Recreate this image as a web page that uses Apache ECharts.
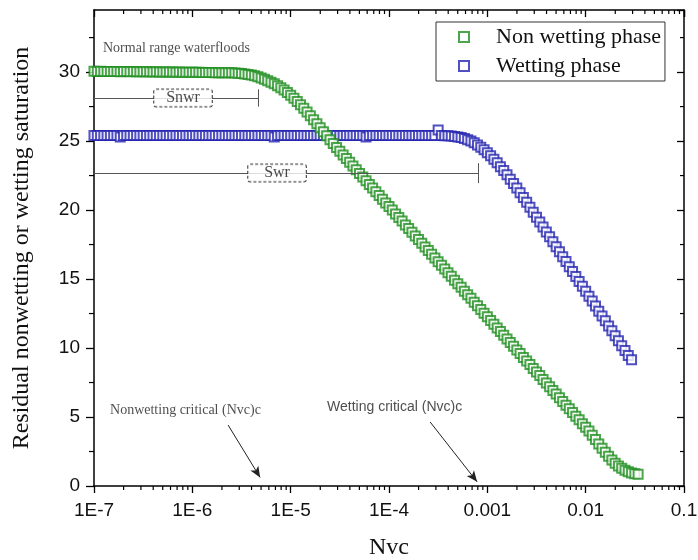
<!DOCTYPE html>
<html>
<head>
<meta charset="utf-8">
<script src="https://cdn.jsdelivr.net/npm/echarts@6/dist/echarts.min.js"></script>
<style>
  html, body { margin: 0; padding: 0; background: #fff; }
  #chart { width: 698px; height: 560px; }
</style>
</head>
<body>
<div id="chart"></div>
<script>
// Capillary number (Nvc) sampling points shared by both phases
const nvc = [
  1.000e-7, 1.080e-7, 1.166e-7, 1.259e-7, 1.359e-7, 1.468e-7, 1.585e-7, 1.711e-7, 1.848e-7, 1.995e-7,
  2.154e-7, 2.326e-7, 2.512e-7, 2.712e-7, 2.929e-7, 3.162e-7, 3.415e-7, 3.687e-7, 3.981e-7, 4.299e-7,
  4.642e-7, 5.012e-7, 5.412e-7, 5.843e-7, 6.310e-7, 6.813e-7, 7.356e-7, 7.943e-7, 8.577e-7, 9.261e-7,
  1.000e-6, 1.080e-6, 1.166e-6, 1.259e-6, 1.359e-6, 1.468e-6, 1.585e-6, 1.711e-6, 1.848e-6, 1.995e-6,
  2.154e-6, 2.326e-6, 2.512e-6, 2.712e-6, 2.929e-6, 3.162e-6, 3.415e-6, 3.687e-6, 3.981e-6, 4.299e-6,
  4.642e-6, 5.012e-6, 5.412e-6, 5.843e-6, 6.310e-6, 6.813e-6, 7.356e-6, 7.943e-6, 8.577e-6, 9.261e-6,
  1.000e-5, 1.080e-5, 1.166e-5, 1.259e-5, 1.359e-5, 1.468e-5, 1.585e-5, 1.711e-5, 1.848e-5, 1.995e-5,
  2.154e-5, 2.326e-5, 2.512e-5, 2.712e-5, 2.929e-5, 3.162e-5, 3.415e-5, 3.687e-5, 3.981e-5, 4.299e-5,
  4.642e-5, 5.012e-5, 5.412e-5, 5.843e-5, 6.310e-5, 6.813e-5, 7.356e-5, 7.943e-5, 8.577e-5, 9.261e-5,
  1.000e-4, 1.080e-4, 1.166e-4, 1.259e-4, 1.359e-4, 1.468e-4, 1.585e-4, 1.711e-4, 1.848e-4, 1.995e-4,
  2.154e-4, 2.326e-4, 2.512e-4, 2.712e-4, 2.929e-4, 3.162e-4, 3.415e-4, 3.687e-4, 3.981e-4, 4.299e-4,
  4.642e-4, 5.012e-4, 5.412e-4, 5.843e-4, 6.310e-4, 6.813e-4, 7.356e-4, 7.943e-4, 8.577e-4, 9.261e-4,
  1.000e-3, 1.080e-3, 1.166e-3, 1.259e-3, 1.359e-3, 1.468e-3, 1.585e-3, 1.711e-3, 1.848e-3, 1.995e-3,
  2.154e-3, 2.326e-3, 2.512e-3, 2.712e-3, 2.929e-3, 3.162e-3, 3.415e-3, 3.687e-3, 3.981e-3, 4.299e-3,
  4.642e-3, 5.012e-3, 5.412e-3, 5.843e-3, 6.310e-3, 6.813e-3, 7.356e-3, 7.943e-3, 8.577e-3, 9.261e-3,
  1.000e-2, 1.080e-2, 1.166e-2, 1.259e-2, 1.359e-2, 1.468e-2, 1.585e-2, 1.711e-2, 1.848e-2, 1.995e-2,
  2.154e-2, 2.326e-2, 2.512e-2, 2.712e-2, 2.929e-2, 3.162e-2, 3.415e-2
];

// Residual non-wetting phase saturation
const nonWetting = [
  30.06, 30.05, 30.06, 30.05, 30.04, 30.05, 30.04, 30.05, 30.03, 30.04,
  30.04, 30.03, 30.04, 30.02, 30.03, 30.02, 30.03, 30.02, 30.01, 30.02,
  30.01, 30.01, 30.00, 30.01, 30.00, 29.99, 30.00, 29.99, 29.99, 29.99,
  29.98, 29.98, 29.98, 29.97, 29.97, 29.97, 29.97, 29.96, 29.96, 29.96,
  29.96, 29.95, 29.95, 29.93, 29.92, 29.90, 29.87, 29.83, 29.78, 29.73,
  29.66, 29.57, 29.48, 29.37, 29.27, 29.15, 29.01, 28.86, 28.71, 28.52,
  28.32, 28.11, 27.87, 27.63, 27.37, 27.10, 26.83, 26.55, 26.26, 25.97,
  25.68, 25.39, 25.10, 24.82, 24.54, 24.26, 23.99, 23.74, 23.46, 23.20,
  22.93, 22.65, 22.39, 22.12, 21.86, 21.60, 21.33, 21.05, 20.79, 20.52,
  20.26, 20.00, 19.72, 19.46, 19.20, 18.92, 18.66, 18.40, 18.12, 17.86,
  17.60, 17.32, 17.06, 16.80, 16.52, 16.26, 16.00, 15.72, 15.46, 15.20,
  14.92, 14.66, 14.40, 14.12, 13.86, 13.60, 13.32, 13.06, 12.80, 12.52,
  12.26, 12.00, 11.72, 11.46, 11.20, 10.92, 10.66, 10.40, 10.12, 9.86,
  9.60, 9.32, 9.06, 8.80, 8.52, 8.26, 8.00, 7.72, 7.46, 7.20,
  6.92, 6.66, 6.40, 6.12, 5.86, 5.60, 5.32, 5.06, 4.80, 4.52,
  4.26, 3.98, 3.68, 3.37, 3.05, 2.74, 2.44, 2.16, 1.89, 1.65,
  1.45, 1.28, 1.14, 1.03, 0.95, 0.89, 0.85
];

// Residual wetting phase saturation
const wetting = [
  25.41, 25.40, 25.41, 25.40, 25.40, 25.41, 25.40, 25.40, 25.30, 25.41,
  25.40, 25.40, 25.41, 25.40, 25.40, 25.41, 25.40, 25.40, 25.41, 25.40,
  25.40, 25.41, 25.40, 25.40, 25.41, 25.40, 25.40, 25.41, 25.40, 25.40,
  25.41, 25.40, 25.40, 25.41, 25.40, 25.40, 25.41, 25.40, 25.40, 25.41,
  25.40, 25.40, 25.41, 25.40, 25.40, 25.41, 25.40, 25.40, 25.41, 25.40,
  25.40, 25.41, 25.40, 25.40, 25.41, 25.30, 25.40, 25.41, 25.40, 25.40,
  25.41, 25.40, 25.40, 25.41, 25.40, 25.40, 25.41, 25.40, 25.40, 25.41,
  25.40, 25.40, 25.41, 25.40, 25.40, 25.41, 25.40, 25.40, 25.41, 25.40,
  25.40, 25.41, 25.40, 25.30, 25.41, 25.40, 25.40, 25.41, 25.40, 25.40,
  25.41, 25.40, 25.40, 25.41, 25.40, 25.40, 25.41, 25.40, 25.40, 25.41,
  25.40, 25.40, 25.41, 25.40, 25.40, 25.80, 25.40, 25.39, 25.38, 25.36,
  25.34, 25.30, 25.25, 25.18, 25.10, 25.00, 24.87, 24.72, 24.56, 24.37,
  24.16, 23.93, 23.68, 23.42, 23.14, 22.86, 22.56, 22.24, 21.92, 21.59,
  21.25, 20.91, 20.56, 20.20, 19.85, 19.48, 19.13, 18.78, 18.41, 18.06,
  17.70, 17.34, 16.97, 16.62, 16.27, 15.90, 15.55, 15.19, 14.82, 14.47,
  14.12, 13.75, 13.40, 13.04, 12.67, 12.32, 11.97, 11.60, 11.25, 10.89,
  10.52, 10.17, 9.82, 9.45, 9.15
];

const seriesNames = ['Non wetting phase', 'Wetting phase'];
const xTickLabels = ['1E-7', '1E-6', '1E-5', '1E-4', '0.001', '0.01', '0.1'];
const yTickLabels = ['0', '5', '10', '15', '20', '25', '30'];

const X_MIN = 1e-7, X_MAX = 0.1, Y_MIN = 0, Y_MAX = 34.5;

// Minor tick positions: 2..9 within each decade, and half-steps on the saturation axis
const xMinor = [];
for (let e = -7; e < -1; e++) {
  for (let m = 2; m <= 9; m++) xMinor.push(m * Math.pow(10, e));
}
const yMinor = [2.5, 7.5, 12.5, 17.5, 22.5, 27.5, 32.5];

const SERIF = '"Liberation Serif", "Times New Roman", serif';
const SANS = '"Liberation Sans", Arial, sans-serif';
const GREEN = '#1f8f1f';
const BLUE = '#2424b0';

const chart = echarts.init(document.getElementById('chart'), null, { renderer: 'canvas' });

function pairs(ys) {
  return ys.map((y, i) => [nvc[i], y]);
}

const axisLineStyle = { color: '#000', width: 1.5 };

// Short minor ticks on bottom (outward) and top (inward) edges
function minorTickItem(params, api) {
  const v = api.value(0);
  const a = api.coord([v, Y_MIN]);
  const b = api.coord([v, Y_MAX]);
  const style = { stroke: '#000', lineWidth: 1.2 };
  return {
    type: 'group',
    children: [
      { type: 'line', shape: { x1: a[0], y1: a[1], x2: a[0], y2: a[1] + 4 }, style },
      { type: 'line', shape: { x1: b[0], y1: b[1], x2: b[0], y2: b[1] + 4 }, style }
    ]
  };
}

// Short minor ticks on left (outward) and right (inward) edges
function minorTickItemY(params, api) {
  const v = api.value(1);
  const a = api.coord([X_MIN, v]);
  const b = api.coord([X_MAX, v]);
  const style = { stroke: '#000', lineWidth: 1.2 };
  return {
    type: 'group',
    children: [
      { type: 'line', shape: { x1: a[0], y1: a[1], x2: a[0] - 5, y2: a[1] }, style },
      { type: 'line', shape: { x1: b[0], y1: b[1], x2: b[0] - 4, y2: b[1] }, style }
    ]
  };
}

function note(value, text, label) {
  return { value, label: Object.assign({ show: true, formatter: text }, label) };
}

const boxLabel = {
  position: 'inside', fontFamily: SERIF, fontSize: 16, color: '#1a1a1a', backgroundColor: '#fff',
  borderColor: '#222', borderWidth: 1, borderType: [3, 2], borderRadius: 2, lineHeight: 17
};

const option = {
  backgroundColor: '#fff',
  animation: false,
  grid: { left: 94, right: 14, top: 10, bottom: 74, containLabel: false, outerBoundsMode: 'none' },
  legend: {
    data: seriesNames,
    orient: 'vertical',
    left: 436,
    top: 22,
    padding: [3, 4, 3, 22],
    itemGap: 5,
    itemWidth: 10,
    itemHeight: 10,
    borderColor: '#333',
    borderWidth: 1,
    backgroundColor: '#fff',
    textStyle: { fontFamily: SERIF, fontSize: 22, color: '#111', lineHeight: 24, padding: [0, 0, 0, 22] }
  },
  xAxis: [
    {
      type: 'log', logBase: 10, min: X_MIN, max: X_MAX, position: 'bottom',
      name: 'Nvc', nameLocation: 'middle', nameGap: 50,
      nameTextStyle: { fontFamily: SERIF, fontSize: 24, color: '#111' },
      axisLine: { onZero: false, lineStyle: axisLineStyle },
      axisTick: { inside: false, length: 7, lineStyle: { width: 1.3, color: '#000' } },
      axisLabel: {
        margin: 15, fontFamily: SANS, fontSize: 19, color: '#111',
        formatter: v => xTickLabels[Math.round(Math.log10(v)) + 7]
      },
      splitLine: { show: false }
    },
    {
      type: 'log', logBase: 10, min: X_MIN, max: X_MAX, position: 'top',
      axisLine: { onZero: false, lineStyle: axisLineStyle },
      axisTick: { inside: true, length: 7, lineStyle: { width: 1.3, color: '#000' } },
      axisLabel: { show: false },
      splitLine: { show: false }
    }
  ],
  yAxis: [
    {
      type: 'value', min: Y_MIN, max: Y_MAX, interval: 5, position: 'left',
      name: 'Residual nonwetting or wetting saturation', nameLocation: 'middle', nameGap: 60,
      nameTextStyle: { fontFamily: SERIF, fontSize: 24, color: '#111' },
      axisLine: { onZero: false, lineStyle: axisLineStyle },
      axisTick: { inside: false, length: 8, lineStyle: { width: 1.3, color: '#000' } },
      axisLabel: {
        margin: 14, fontFamily: SANS, fontSize: 19, color: '#111', showMaxLabel: false,
        formatter: v => { const i = Math.round(v / 5); return Math.abs(v - i * 5) < 1e-6 ? yTickLabels[i] : ''; }
      },
      splitLine: { show: false }
    },
    {
      type: 'value', min: Y_MIN, max: Y_MAX, interval: 5, position: 'right',
      axisLine: { onZero: false, lineStyle: axisLineStyle },
      axisTick: { inside: true, length: 7, lineStyle: { width: 1.3, color: '#000' } },
      axisLabel: { show: false },
      splitLine: { show: false }
    }
  ],
  series: [
    {
      name: seriesNames[1],
      type: 'scatter',
      symbol: 'emptyRect',
      symbolSize: 9,
      itemStyle: { color: BLUE, borderColor: BLUE, borderWidth: 1.4 },
      data: pairs(wetting),
      z: 3
    },
    {
      name: seriesNames[0],
      type: 'scatter',
      symbol: 'emptyRect',
      symbolSize: 9,
      itemStyle: { color: GREEN, borderColor: GREEN, borderWidth: 1.4 },
      data: pairs(nonWetting),
      z: 4
    },
    {
      name: 'notes',
      type: 'scatter',
      symbolSize: 0,
      silent: true,
      z: 6,
      data: [
        note([1.235e-7, 31.75], 'Normal range waterfloods',
          { position: 'right', distance: 0, fontFamily: SERIF, fontSize: 14, color: '#222' }),
        note([1.456e-7, 5.5], 'Nonwetting critical (Nvc)c',
          { position: 'right', distance: 0, fontFamily: SERIF, fontSize: 14, color: '#222' }),
        note([2.345e-5, 5.72], 'Wetting critical (Nvc)c',
          { position: 'right', distance: 0, fontFamily: SANS, fontSize: 14, color: '#222' }),
        note([8.04e-7, 28.12], 'Snwr', Object.assign({ padding: [0, 12] }, boxLabel)),
        note([7.27e-6, 22.68], 'Swr', Object.assign({ padding: [0, 16] }, boxLabel))
      ],
      markLine: {
        silent: true,
        symbol: ['none', 'none'],
        label: { show: false },
        lineStyle: { color: '#555', width: 1, type: 'solid' },
        data: [
          [{ coord: [X_MIN, 28.12] }, { coord: [4.7e-6, 28.12] }],
          [{ coord: [4.7e-6, 27.5] }, { coord: [4.7e-6, 28.75] }],
          [{ coord: [X_MIN, 22.68] }, { coord: [8.1e-4, 22.68] }],
          [{ coord: [8.1e-4, 21.95] }, { coord: [8.1e-4, 23.4] }],
          [{ coord: [2.31e-6, 4.42], symbol: 'none' },
           { coord: [4.89e-6, 0.62], symbol: 'arrow', symbolSize: [7, 11], lineStyle: { color: '#222' } }],
          [{ coord: [2.62e-4, 4.64], symbol: 'none' },
           { coord: [7.87e-4, 0.3], symbol: 'arrow', symbolSize: [7, 11], lineStyle: { color: '#222' } }]
        ]
      }
    },
    {
      name: 'xMinorTicks',
      type: 'custom',
      silent: true,
      clip: false,
      z: 10,
      renderItem: minorTickItem,
      data: xMinor.map(v => [v, 0])
    },
    {
      name: 'yMinorTicks',
      type: 'custom',
      silent: true,
      clip: false,
      z: 10,
      renderItem: minorTickItemY,
      data: yMinor.map(v => [X_MIN, v])
    }
  ]
};

chart.setOption(option);
</script>
</body>
</html>
